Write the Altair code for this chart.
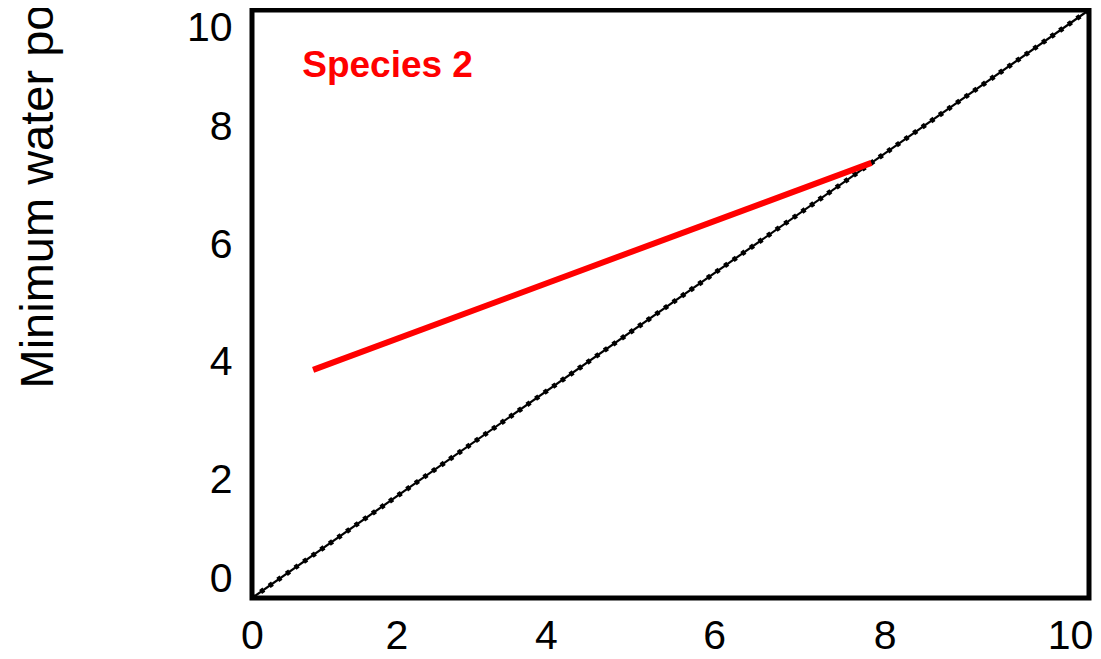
import altair as alt
import pandas as pd

# ---- data ----
x_ticks = [0, 2, 4, 6, 8, 10]
y_ticks = [0, 2, 4, 6, 8, 10]
diag_x = [0, 10]
diag_y = [0, 10]
sp2_x = [0.73, 7.4]
sp2_y = [3.88, 7.4]
label_text = ["Species 2"]
label_x = [0.6]
label_y = [8.86]
y_title = "Minimum water po"

diag = pd.DataFrame({"x": diag_x, "y": diag_y})
sp2 = pd.DataFrame({"x": sp2_x, "y": sp2_y})
lab = pd.DataFrame({"x": label_x, "y": label_y, "t": label_text})

FONT = "Liberation Sans"
xscale = alt.Scale(domain=[0, 10], nice=False)
yscale = alt.Scale(domain=[0, 10], nice=False)

# hand-placed x labels in the original figure
x_label_shift = {2: -23, 4: -41, 6: -40, 8: -37, 10: -19}
label_offset = {
    "condition": [{"test": f"datum.value == {k}", "value": v} for k, v in x_label_shift.items()],
    "value": 0,
}

x_axis = alt.Axis(values=x_ticks, format="d", title=None, grid=False, domain=False, ticks=False,
                  labelFont=FONT, labelFontSize=41, labelColor="black",
                  labelPadding=18, labelOffset=label_offset, labelFlush=False,
                  labelOverlap=False)
y_axis = alt.Axis(values=y_ticks, format="d", title=y_title, grid=False, domain=False, ticks=False,
                  labelFont=FONT, labelFontSize=41, labelColor="black",
                  labelPadding=20, labelFlush=True, labelFlushOffset=2, labelOverlap=False,
                  titleFont=FONT, titleFontSize=47, titleFontWeight="normal",
                  titleColor="black", titleAngle=270, titleAlign="left",
                  titleBaseline="alphabetic", titleX=-200, titleY=378)

diag_solid = alt.Chart(diag).mark_line(color="black", strokeWidth=2.2).encode(
    x=alt.X("x:Q", scale=xscale, axis=x_axis),
    y=alt.Y("y:Q", scale=yscale, axis=y_axis),
)
diag_dots = alt.Chart(diag).mark_line(color="black", strokeWidth=5,
                                      strokeDash=[4, 6.5], strokeCap="butt").encode(
    x="x:Q", y="y:Q"
)
sp2_line = alt.Chart(sp2).mark_line(color="#ff0000", strokeWidth=6, strokeCap="butt").encode(
    x="x:Q", y="y:Q"
)
sp2_label = alt.Chart(lab).mark_text(color="#ff0000", font=FONT, fontSize=37,
                                     fontWeight="bold", align="left",
                                     baseline="alphabetic").encode(
    x="x:Q", y="y:Q", text="t:N"
)

chart = alt.layer(diag_solid, diag_dots, sp2_line, sp2_label).properties(
    width=837,
    height=588,
    autosize=alt.AutoSizeParams(type="none"),
    padding={"left": 244, "top": 2, "right": 4, "bottom": 60},
    background="white",
).configure_view(stroke="black", strokeWidth=5)

chart.save("out.html", embed_options={"renderer": "svg", "actions": False})
